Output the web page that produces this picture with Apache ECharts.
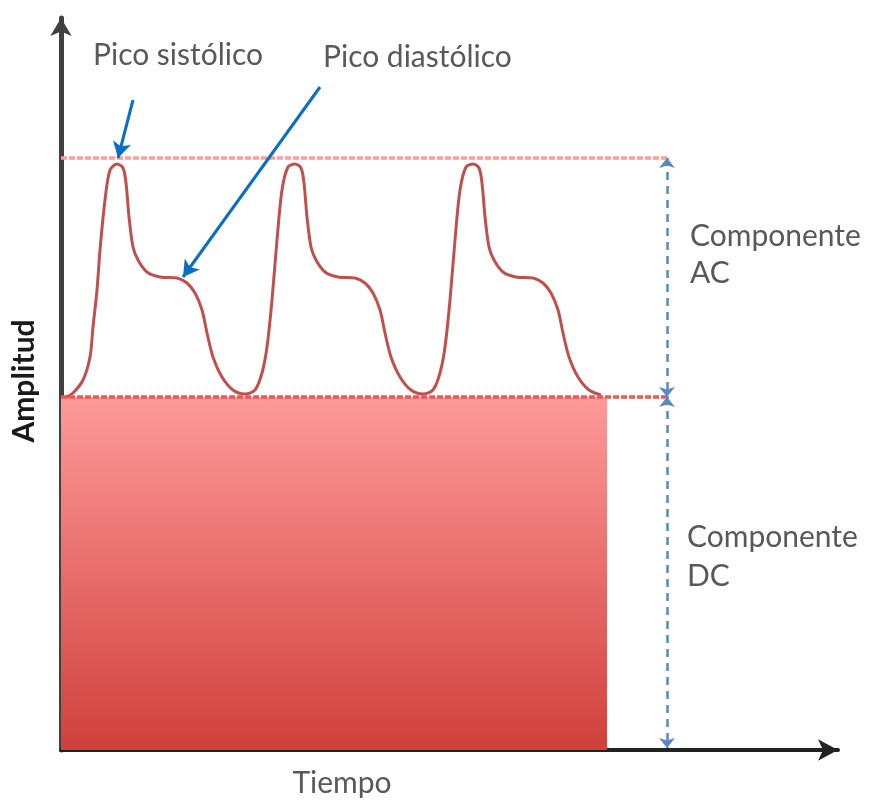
<!DOCTYPE html>
<html>
<head>
<meta charset="utf-8">
<script src="https://cdn.jsdelivr.net/npm/echarts@6/dist/echarts.min.js"></script>
<style>html,body{margin:0;padding:0;background:#fff;}#c{width:870px;height:803px;}</style>
</head>
<body>
<div id="c"></div>
<script>
// Pulse waveform (time, amplitude)
const pulseTime = [5,12,22,29,32,36,39,44,49,56,62,65,68,72,77,86,99,116,126,134,141,146,152,161,172,184,194,201,206,211,216,221,227,234,
  240,243,246,250,255,264,277,294,304,312,319,324,330,339,350,362,372,379,384,389,394,399,405,412,
  418,421,424,428,433,442,455,472,482,490,497,502,508,517,528,540];
const pulseAmplitude = [353,357,370,393,423,460,500,550,580,586,582,567,533,503,490,478,473,472,467,457,440,417,393,373,360,356,360,377,403,450,510,560,583,586,
  582,567,533,503,490,478,473,472,467,457,440,417,393,373,360,356,360,377,403,450,510,560,583,586,
  582,567,533,503,490,478,473,472,467,457,440,417,393,373,360,355];
// Levels
const dcLevel = 353;
const acPeakLevel = 592;
const dcEndTime = 546;
const levelLineEnd = 606;
const bracketTime = 606;
// Annotations: [fromTime, fromAmp, toTime, toAmp]
const systolicArrow = [72, 650, 57, 592];
const diastolicArrow = [259, 663, 122, 473];
const labels = ['Pico sistólico', 'Pico diastólico', 'Componente', 'AC', 'DC', 'Amplitud', 'Tiempo'];

const chart = echarts.init(document.getElementById('c'), null, {renderer: 'canvas'});
const FONT = 'Lato';
const FS = 30;
const GRAY = '#595959';
const option = {
  animation: false,
  grid: {left: 61, right: 32, top: 18, bottom: 53},
  xAxis: {
    type: 'value', min: 0, max: 777,
    axisLine: {show: true, symbol: ['none', 'arrow'], symbolSize: [16, 20], lineStyle: {color: '#222', width: 4}},
    axisTick: {show: false}, axisLabel: {show: false}, splitLine: {show: false}
  },
  yAxis: {
    type: 'value', min: 0, max: 732,
    axisLine: {show: true, symbol: ['none', 'arrow'], symbolSize: [16, 18], lineStyle: {color: '#404040', width: 5}},
    axisTick: {show: false}, axisLabel: {show: false}, splitLine: {show: false}
  },
  series: [
    {
      type: 'line', name: 'DC', silent: true, symbol: 'none', z: 1,
      data: [[0, dcLevel], [dcEndTime, dcLevel]],
      lineStyle: {width: 0},
      areaStyle: {opacity: 1, color: new echarts.graphic.LinearGradient(0, 0, 0, 1, [
        {offset: 0, color: '#fe9a9a'}, {offset: 1, color: '#d0403c'}])},
      markLine: {
        silent: true, symbol: 'none', label: {show: false},
        data: [
          [{coord: [0, acPeakLevel], lineStyle: {color: '#ff9c9c', width: 3.5, type: [6, 2]}}, {coord: [levelLineEnd, acPeakLevel]}],
          [{coord: [0, dcLevel], lineStyle: {color: '#f25555', width: 3.5, type: [6, 2]}}, {coord: [levelLineEnd, dcLevel]}]
        ]
      }
    },
    {
      type: 'line', name: 'PPG', silent: true, symbol: 'none', smooth: 0.3, z: 3,
      data: pulseTime.map((t, i) => [t, pulseAmplitude[i]]),
      lineStyle: {color: '#c0504d', width: 3}
    },
    {
      type: 'line', name: 'anotaciones', silent: true, symbol: 'none', z: 4, data: [],
      markLine: {
        silent: true, label: {show: false},
        data: [
          [{coord: [systolicArrow[0], systolicArrow[1]], symbol: 'none', lineStyle: {color: '#0a6fc2', width: 3, type: 'solid'}},
           {coord: [systolicArrow[2], systolicArrow[3]], symbol: 'arrow', symbolSize: [14, 16]}],
          [{coord: [diastolicArrow[0], diastolicArrow[1]], symbol: 'none', lineStyle: {color: '#0a6fc2', width: 3, type: 'solid'}},
           {coord: [diastolicArrow[2], diastolicArrow[3]], symbol: 'arrow', symbolSize: [14, 16]}],
          [{coord: [bracketTime, acPeakLevel], symbol: 'arrow', symbolSize: [12, 10], lineStyle: {color: '#5a88c0', width: 2.5, type: [8, 6]}},
           {coord: [bracketTime, dcLevel], symbol: 'arrow', symbolSize: [12, 10]}],
          [{coord: [bracketTime, dcLevel], symbol: 'arrow', symbolSize: [12, 10], lineStyle: {color: '#5a88c0', width: 2.5, type: [8, 6]}},
           {coord: [bracketTime, 2], symbol: 'arrow', symbolSize: [12, 10]}]
        ]
      }
    }
  ],
  graphic: [
    {type: 'text', x: 93, y: 55, style: {text: labels[0], fontSize: FS, fontFamily: FONT, fill: GRAY, verticalAlign: 'middle'}},
    {type: 'text', x: 323, y: 57, style: {text: labels[1], fontSize: FS, fontFamily: FONT, fill: GRAY, verticalAlign: 'middle'}},
    {type: 'text', x: 690, y: 236, style: {text: labels[2], fontSize: FS, fontFamily: FONT, fill: GRAY, verticalAlign: 'middle'}},
    {type: 'text', x: 690, y: 273, style: {text: labels[3], fontSize: FS, fontFamily: FONT, fill: GRAY, verticalAlign: 'middle'}},
    {type: 'text', x: 687, y: 537, style: {text: labels[2], fontSize: FS, fontFamily: FONT, fill: GRAY, verticalAlign: 'middle'}},
    {type: 'text', x: 687, y: 576, style: {text: labels[4], fontSize: FS, fontFamily: FONT, fill: GRAY, verticalAlign: 'middle'}},
    {type: 'text', x: 24, y: 381, rotation: Math.PI / 2, style: {text: labels[5], fontSize: FS, fontWeight: 'bold', fontFamily: FONT, fill: '#1a1a1a', align: 'center', verticalAlign: 'middle'}},
    {type: 'text', x: 342, y: 783, style: {text: labels[6], fontSize: FS, fontFamily: FONT, fill: GRAY, align: 'center', verticalAlign: 'middle'}}
  ]
};
chart.setOption(option);
</script>
</body>
</html>
